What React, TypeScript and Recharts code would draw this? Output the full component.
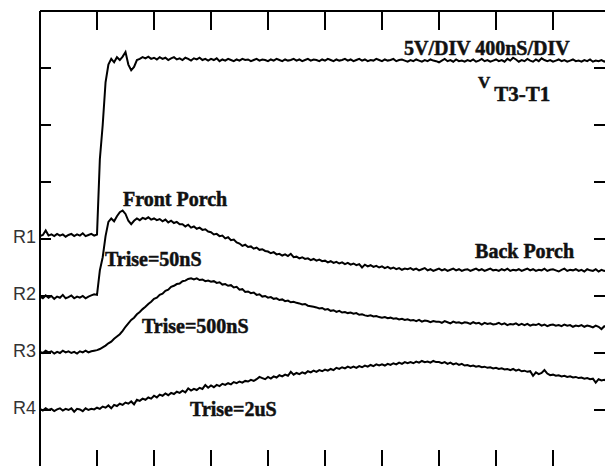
import React from 'react';
import { LineChart, Line, XAxis, YAxis, ReferenceDot } from 'recharts';

// Scope sample interval along the time axis (ns)
const SAMPLE_NS = 20;

// Graticule: 10 horizontal divisions of 400 ns, 8 vertical divisions
const TIME_DIV_TICKS = [0, 400, 800, 1200, 1600, 2000, 2400, 2800, 3200, 3600, 4000];
const LEVEL_TICKS = [0, 1, 2, 3, 4, 5, 6, 7, 8];

// Reference markers on the left edge (level in divisions)
const REF_NAMES = ['R1', 'R2', 'R3', 'R4'];
const REF_LEVELS = [4, 3, 2, 1];

// Traces, in screen divisions, one value per sample
const V_T3_T1 = [
  4.05, 4.07, 4.15, 4.06, 4.08, 4.05, 4.09, 4.06, 4.08, 4.04,
  4.07, 4.09, 4.05, 4.08, 4.06, 4.10, 4.05, 4.07, 4.09, 4.06,
  4.08, 5.40, 6.00, 6.75, 7.06, 7.16, 7.10, 7.19, 7.14, 7.20,
  7.28, 7.06, 6.96, 7.02, 7.14, 7.16, 7.19, 7.17, 7.20, 7.16,
  7.18, 7.15, 7.19, 7.16, 7.18, 7.14, 7.17, 7.19, 7.15, 7.17,
  7.14, 7.18, 7.16, 7.13, 7.17, 7.15, 7.18, 7.14, 7.16, 7.13,
  7.16, 7.14, 7.17, 7.12, 7.15, 7.13, 7.16, 7.14, 7.12, 7.15,
  7.13, 7.16, 7.14, 7.15, 7.12, 7.14, 7.16, 7.13, 7.15, 7.14,
  7.12, 7.15, 7.13, 7.16, 7.14, 7.12, 7.15, 7.13, 7.14, 7.16,
  7.13, 7.15, 7.12, 7.14, 7.16, 7.13, 7.15, 7.14, 7.12, 7.15,
  7.13, 7.16, 7.14, 7.12, 7.15, 7.13, 7.14, 7.16, 7.13, 7.15,
  7.12, 7.14, 7.16, 7.13, 7.15, 7.12, 7.14, 7.13, 7.16, 7.14,
  7.12, 7.15, 7.13, 7.14, 7.16, 7.12, 7.14, 7.15, 7.13, 7.11,
  7.14, 7.12, 7.15, 7.13, 7.11, 7.14, 7.12, 7.15, 7.13, 7.12,
  7.10, 7.13, 7.16, 7.12, 7.14, 7.11, 7.15, 7.12, 7.13, 7.11,
  7.14, 7.12, 7.15, 7.11, 7.13, 7.16, 7.12, 7.14, 7.11, 7.13,
  7.15, 7.12, 7.14, 7.11, 7.16, 7.13, 7.18, 7.15, 7.11, 7.14,
  7.12, 7.16, 7.13, 7.11, 7.15, 7.12, 7.17, 7.14, 7.12, 7.14,
  7.11, 7.13, 7.15, 7.12, 7.14, 7.11, 7.13, 7.15, 7.12, 7.13,
  7.11, 7.14, 7.12, 7.15, 7.11, 7.13, 7.12, 7.14, 7.11, 7.13,
  7.12,
];

const TRISE_50NS = [
  2.99, 2.96, 3.01, 2.97, 3.00, 2.95, 2.99, 2.97, 3.02, 2.96,
  2.98, 3.01, 2.96, 2.99, 2.97, 3.00, 2.96, 2.99, 3.01, 3.03,
  3.02, 3.45, 3.68, 4.05, 4.30, 4.36, 4.31, 4.40, 4.47, 4.50,
  4.44, 4.32, 4.26, 4.32, 4.36, 4.33, 4.37, 4.35, 4.38, 4.34,
  4.36, 4.33, 4.35, 4.31, 4.34, 4.29, 4.32, 4.28, 4.30, 4.26,
  4.26, 4.22, 4.25, 4.20, 4.22, 4.18, 4.20, 4.16, 4.17, 4.13,
  4.12, 4.08, 4.09, 4.05, 4.06, 4.01, 4.03, 3.98, 3.99, 3.94,
  3.92, 3.88, 3.90, 3.86, 3.87, 3.83, 3.85, 3.81, 3.82, 3.79,
  3.78, 3.75, 3.77, 3.73, 3.74, 3.71, 3.73, 3.70, 3.74, 3.68,
  3.69, 3.66, 3.68, 3.65, 3.66, 3.63, 3.65, 3.62, 3.64, 3.61,
  3.62, 3.59, 3.61, 3.58, 3.60, 3.57, 3.59, 3.56, 3.58, 3.55,
  3.57, 3.54, 3.56, 3.50, 3.55, 3.52, 3.54, 3.51, 3.53, 3.50,
  3.52, 3.49, 3.51, 3.48, 3.50, 3.47, 3.49, 3.46, 3.48, 3.47,
  3.49, 3.46, 3.48, 3.45, 3.47, 3.49, 3.45, 3.47, 3.44, 3.46,
  3.48, 3.45, 3.47, 3.44, 3.46, 3.48, 3.45, 3.47, 3.44, 3.46,
  3.47, 3.44, 3.46, 3.48, 3.45, 3.47, 3.44, 3.46, 3.48, 3.45,
  3.46, 3.44, 3.47, 3.45, 3.48, 3.44, 3.46, 3.45, 3.47, 3.44,
  3.46, 3.48, 3.45, 3.47, 3.44, 3.46, 3.45, 3.48, 3.44, 3.46,
  3.47, 3.45, 3.43, 3.46, 3.48, 3.44, 3.46, 3.45, 3.47, 3.44,
  3.46, 3.43, 3.47, 3.45, 3.44, 3.47, 3.43, 3.46, 3.44, 3.45,
  3.46,
];

const TRISE_500NS = [
  2.02, 2.00, 2.04, 2.01, 2.03, 1.99, 2.02, 2.00, 2.04, 2.01,
  2.03, 2.00, 2.02, 1.99, 2.03, 2.01, 2.04, 2.01, 2.03, 2.04,
  2.05, 2.07, 2.10, 2.13, 2.17, 2.20, 2.25, 2.29, 2.33, 2.39,
  2.46, 2.52, 2.58, 2.62, 2.68, 2.72, 2.77, 2.81, 2.86, 2.90,
  2.95, 2.97, 3.02, 3.04, 3.09, 3.11, 3.16, 3.18, 3.21, 3.22,
  3.26, 3.27, 3.30, 3.31, 3.29, 3.31, 3.28, 3.29, 3.26, 3.27,
  3.25, 3.26, 3.23, 3.24, 3.20, 3.21, 3.18, 3.19, 3.15, 3.16,
  3.11, 3.12, 3.07, 3.08, 3.05, 3.06, 3.02, 3.03, 2.99, 3.00,
  2.97, 2.98, 2.95, 2.96, 2.93, 2.94, 2.91, 2.92, 2.89, 2.90,
  2.88, 2.87, 2.85, 2.86, 2.83, 2.82, 2.81, 2.80, 2.78, 2.79,
  2.76, 2.77, 2.74, 2.75, 2.72, 2.74, 2.71, 2.72, 2.70, 2.71,
  2.69, 2.70, 2.67, 2.68, 2.66, 2.65, 2.66, 2.64, 2.65, 2.63,
  2.62, 2.63, 2.61, 2.62, 2.60, 2.61, 2.59, 2.60, 2.58, 2.59,
  2.57, 2.58, 2.56, 2.58, 2.55, 2.57, 2.56, 2.54, 2.56, 2.55,
  2.55, 2.53, 2.56, 2.54, 2.52, 2.55, 2.53, 2.54, 2.52, 2.54,
  2.53, 2.51, 2.54, 2.52, 2.53, 2.50, 2.53, 2.51, 2.52, 2.50,
  2.51, 2.53, 2.50, 2.52, 2.49, 2.51, 2.50, 2.52, 2.49, 2.51,
  2.49, 2.51, 2.48, 2.50, 2.49, 2.51, 2.48, 2.50, 2.47, 2.49,
  2.50, 2.48, 2.49, 2.47, 2.50, 2.48, 2.49, 2.46, 2.48, 2.47,
  2.49, 2.46, 2.48, 2.47, 2.45, 2.48, 2.46, 2.42, 2.47, 2.45,
  2.46,
];

const TRISE_2US = [
  1.02, 0.99, 1.03, 1.00, 1.02, 0.98, 1.01, 1.03, 0.99, 1.02,
  1.00, 1.03, 0.97, 1.02, 1.01, 0.98, 1.03, 1.00, 1.02, 1.01,
  1.04, 1.02, 1.06, 1.04, 1.08, 1.03, 1.09, 1.07, 1.11, 1.09,
  1.13, 1.11, 1.15, 1.10, 1.18, 1.16, 1.20, 1.18, 1.22, 1.20,
  1.25, 1.22, 1.27, 1.25, 1.29, 1.26, 1.30, 1.28, 1.32, 1.30,
  1.34, 1.31, 1.38, 1.34, 1.37, 1.35, 1.39, 1.37, 1.44, 1.39,
  1.43, 1.40, 1.44, 1.42, 1.46, 1.44, 1.47, 1.45, 1.49, 1.47,
  1.50, 1.48, 1.51, 1.50, 1.53, 1.51, 1.54, 1.58, 1.56, 1.54,
  1.58, 1.55, 1.59, 1.57, 1.61, 1.59, 1.62, 1.60, 1.67, 1.62,
  1.65, 1.63, 1.66, 1.64, 1.68, 1.66, 1.69, 1.67, 1.70, 1.68,
  1.71, 1.69, 1.72, 1.70, 1.74, 1.72, 1.75, 1.73, 1.76, 1.74,
  1.76, 1.74, 1.77, 1.75, 1.78, 1.76, 1.79, 1.77, 1.80, 1.78,
  1.80, 1.78, 1.81, 1.79, 1.82, 1.80, 1.83, 1.81, 1.84, 1.82,
  1.84, 1.82, 1.85, 1.83, 1.86, 1.84, 1.85, 1.83, 1.86, 1.84,
  1.84, 1.82, 1.84, 1.81, 1.83, 1.80, 1.82, 1.79, 1.81, 1.78,
  1.79, 1.77, 1.78, 1.76, 1.77, 1.75, 1.76, 1.74, 1.75, 1.73,
  1.74, 1.72, 1.73, 1.71, 1.72, 1.70, 1.72, 1.69, 1.71, 1.68,
  1.69, 1.67, 1.68, 1.60, 1.66, 1.63, 1.65, 1.70, 1.64, 1.61,
  1.62, 1.60, 1.61, 1.59, 1.60, 1.58, 1.59, 1.57, 1.58, 1.56,
  1.57, 1.55, 1.56, 1.54, 1.55, 1.48, 1.54, 1.52, 1.53, 1.51,
  1.51,
];

const rows = V_T3_T1.map((v, i) => ({
  t: i * SAMPLE_NS,
  vt: v,
  r2: TRISE_50NS[i],
  r3: TRISE_500NS[i],
  r4: TRISE_2US[i],
}));

const SERIF_BOLD: React.CSSProperties = {
  fontFamily: '"Liberation Serif", "Times New Roman", serif',
  fontWeight: 700,
  fill: '#111',
  stroke: '#111',
  strokeWidth: 0.5,
};

const NoLabel = () => <g />;

// Left edge: inward graticule ticks plus the reference-marker names
const LeftTick = (props: any) => {
  const { x, y, payload } = props;
  const idx = REF_LEVELS.indexOf(payload.value);
  return (
    <g>
      <line x1={x} x2={x + 11} y1={y} y2={y} stroke="#000" strokeWidth={2} />
      {idx >= 0 && (
        <text
          x={x - 4}
          y={y - 2}
          textAnchor="end"
          dominantBaseline="central"
          style={{ fontFamily: '"Liberation Sans", Arial, sans-serif', fontSize: 18, fill: '#333' }}
        >
          {REF_NAMES[idx]}
        </text>
      )}
    </g>
  );
};

// Text pinned at a point in data space (baseline-left)
const note = (key: string, t: number, v: number, content: React.ReactNode, size = 20) => (
  <ReferenceDot
    key={key}
    xAxisId="bottom"
    yAxisId="left"
    x={t}
    y={v}
    r={0}
    fill="none"
    stroke="none"
    isFront
    label={(p: any) => (
      <text x={p.viewBox.x} y={p.viewBox.y} style={{ ...SERIF_BOLD, fontSize: size }}>
        {content}
      </text>
    )}
  />
);

export default function App() {
  const axisStroke = { stroke: '#000', strokeWidth: 2 };
  return (
    <div
      style={{
        position: 'fixed',
        left: 0,
        top: 0,
        width: 605,
        height: 466,
        overflow: 'hidden',
        background: '#fff',
      }}
    >
      <LineChart width={620} height={480} data={rows} margin={{ top: 11, right: 10, bottom: 13, left: 0 }}>
        <XAxis
          xAxisId="bottom"
          dataKey="t"
          type="number"
          domain={[0, 4000]}
          allowDataOverflow
          ticks={TIME_DIV_TICKS}
          orientation="bottom"
          mirror
          axisLine={false}
          tickLine={axisStroke}
          tickSize={17}
          tick={NoLabel}
        />
        <XAxis
          xAxisId="top"
          dataKey="t"
          type="number"
          domain={[0, 4000]}
          allowDataOverflow
          ticks={TIME_DIV_TICKS}
          orientation="top"
          mirror
          axisLine={axisStroke}
          tickLine={axisStroke}
          tickSize={19}
          tick={NoLabel}
        />
        <YAxis
          yAxisId="left"
          type="number"
          domain={[0, 8]}
          allowDataOverflow
          ticks={LEVEL_TICKS}
          width={40}
          axisLine={axisStroke}
          tickLine={false}
          tickSize={0}
          tickMargin={0}
          tick={LeftTick}
        />
        <YAxis
          yAxisId="right"
          type="number"
          domain={[0, 8]}
          allowDataOverflow
          ticks={LEVEL_TICKS}
          orientation="right"
          mirror
          axisLine={axisStroke}
          tickLine={axisStroke}
          tickSize={16}
          tick={NoLabel}
        />

        <Line xAxisId="bottom" yAxisId="left" dataKey="vt" type="linear" stroke="#000" strokeWidth={2} dot={false} isAnimationActive={false} />
        <Line xAxisId="bottom" yAxisId="left" dataKey="r2" type="linear" stroke="#000" strokeWidth={2} dot={false} isAnimationActive={false} />
        <Line xAxisId="bottom" yAxisId="left" dataKey="r3" type="linear" stroke="#000" strokeWidth={2} dot={false} isAnimationActive={false} />
        <Line xAxisId="bottom" yAxisId="left" dataKey="r4" type="linear" stroke="#000" strokeWidth={2} dot={false} isAnimationActive={false} />

        {note('scale', 2554, 7.23, '5V/DIV 400nS/DIV')}
        {note(
          'vt',
          3074,
          6.65,
          <>
            <tspan style={{ fontSize: 17 }}>V</tspan>
            <tspan dx={4} dy={13} style={{ fontSize: 21 }}>T3-T1</tspan>
          </>
        )}
        {note('front', 582, 4.58, 'Front Porch')}
        {note('back', 3053, 3.67, 'Back Porch')}
        {note('t50', 456, 3.53, 'Trise=50nS')}
        {note('t500', 716, 2.35, 'Trise=500nS')}
        {note('t2u', 1053, 0.89, 'Trise=2uS')}
      </LineChart>
    </div>
  );
}
